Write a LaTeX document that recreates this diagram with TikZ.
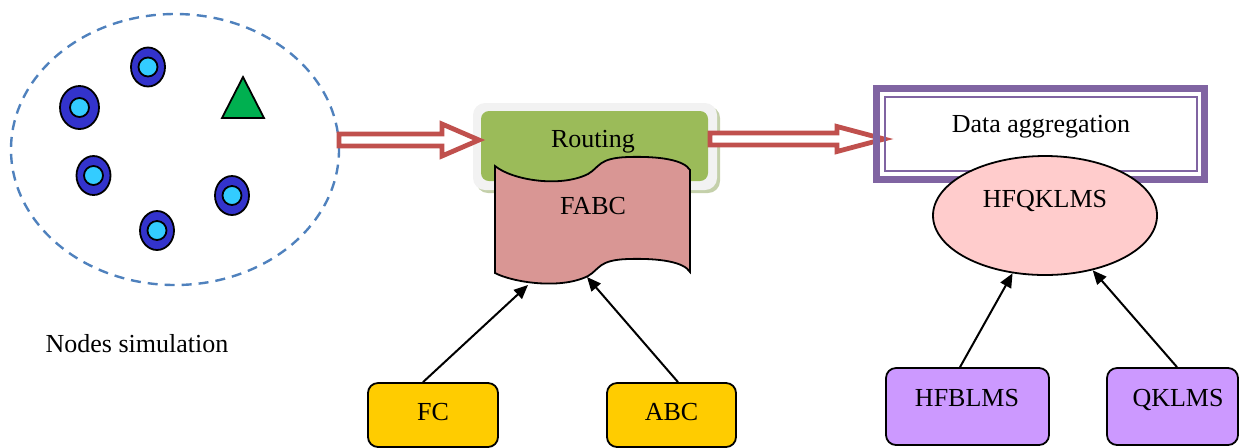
\documentclass[tikz,border=0pt]{standalone}
\usepackage{fontspec}
\setmainfont{Liberation Serif}
\usetikzlibrary{arrows.meta,shapes.geometric,calc}
\definecolor{arrred}{RGB}{192,80,77}
\definecolor{aggpurple}{RGB}{128,100,162}
\definecolor{routgreen}{RGB}{155,187,89}
\definecolor{framegray}{RGB}{242,242,242}
\definecolor{shadowgray}{RGB}{196,208,170}
\definecolor{wavepink}{RGB}{217,150,148}
\definecolor{ellpink}{RGB}{255,204,204}
\definecolor{fcyellow}{RGB}{255,204,0}
\definecolor{lmsviolet}{RGB}{204,153,255}
\definecolor{dashblue}{RGB}{79,129,189}
\definecolor{trigreen}{RGB}{0,176,80}
\definecolor{nodeblue}{RGB}{51,51,204}
\definecolor{nodecyan}{RGB}{51,204,255}
\newcommand\hollowarrow[6]{%
  \draw[hollowarr] (#1,#4-#5) -- (#2,#4-#5) -- (#2,#4-#6) -- (#3,#4)
    -- (#2,#4+#6) -- (#2,#4+#5) -- (#1,#4+#5) -- cycle;}
\newcommand\simnode[4]{%
  \fill[nodeblue,draw=black,line width=0.9pt] (#1,#2) ellipse [x radius=#3, y radius=#4];
  \fill[nodecyan,draw=black,line width=0.9pt] (#1,#2) circle [radius=9.5];}
\begin{document}
\begin{tikzpicture}[x=0.5pt,y=-0.5pt,
  every node/.style={font=\fontsize{13}{15}\selectfont},
  hollowarr/.style={draw=arrred,fill=white,line width=2.4pt},
  boxstyle/.style={draw=black,line width=0.9pt,rounded corners=5pt,inner sep=0pt},
  conn/.style={line width=1pt,-{Triangle[length=7pt,width=6pt]}},
  txt/.style={inner sep=0pt,anchor=base}]
\useasboundingbox (0,0) rectangle (1240,447);
% nodes simulation cloud
\node[draw=dashblue,line width=1.2pt,dash pattern=on 5pt off 3.5pt,ellipse,
  minimum width=328*0.5pt,minimum height=271*0.5pt,inner sep=0pt] (cloud) at (175,149.5) {};
\simnode{148}{67}{17}{19.5}
\simnode{79.5}{107.5}{19.5}{21.5}
\simnode{93.5}{175.5}{17}{19.5}
\simnode{232}{195.5}{17}{19.5}
\simnode{157}{230.5}{17}{19.5}
\draw[fill=trigreen,draw=black,line width=0.9pt] (243,77) -- (264,118) -- (222,118) -- cycle;
\node[txt] (simlabel) at (137,352) {Nodes simulation};
% routing box
\fill[shadowgray,rounded corners=6pt] (476,106) rectangle (720,193);
\fill[framegray,rounded corners=6pt] (473,103) rectangle (717,190);
\fill[routgreen,rounded corners=4pt] (481,111) rectangle (708,181);
\node[txt] (routing) at (593,147) {Routing};
% FABC wave
\draw[fill=wavepink,line width=0.9pt]
  (495,166) .. controls (512,180) and (560,188) .. (588,174)
  .. controls (600,167) and (598,158) .. (628,157)
  .. controls (660,156) and (684,160) .. (690,170)
  -- (690,272)
  .. controls (684,262) and (660,258) .. (628,259)
  .. controls (598,260) and (600,269) .. (588,276)
  .. controls (560,290) and (512,282) .. (495,273) -- cycle;
\node[txt] (fabc) at (593,214) {FABC};
\coordinate (fabcL) at (528,285);
\coordinate (fabcR) at (587,277);
% hollow arrows
\hollowarrow{339}{442}{479}{140}{6}{16}
\hollowarrow{710}{837}{884}{139}{6}{12.5}
% data aggregation box
\draw[aggpurple,line width=3.5pt] (876.5,88.5) rectangle (1204.5,179.5);
\draw[aggpurple,line width=0.8pt] (885,97) rectangle (1197,171);
\node[txt] (agg) at (1041,132) {Data aggregation};
% HFQKLMS
\node[draw=black,line width=0.9pt,fill=ellpink,ellipse,inner sep=0pt,
  minimum width=224*0.5pt,minimum height=119*0.5pt] (hfq) at (1045,215.5) {};
\node[txt] (hfqtext) at (1045,207) {HFQKLMS};
% bottom boxes
\node[boxstyle,fill=fcyellow,minimum width=130*0.5pt,minimum height=64*0.5pt] (fc) at (433,415) {};
\node[txt] (fctext) at (433,420) {FC};
\node[boxstyle,fill=fcyellow,minimum width=129*0.5pt,minimum height=64*0.5pt] (abc) at (671.5,415) {};
\node[txt] (abctext) at (671.5,420) {ABC};
\node[boxstyle,fill=lmsviolet,minimum width=163*0.5pt,minimum height=77*0.5pt] (hfb) at (967.5,406.5) {};
\node[txt] (hfbtext) at (967,406) {HFBLMS};
\node[boxstyle,fill=lmsviolet,minimum width=131*0.5pt,minimum height=77*0.5pt] (qk) at (1172.5,406.5) {};
\node[txt] (qktext) at (1178,406) {QKLMS};
% connectors
\draw[conn] ($(fc.north)+(-10,0)$) -- (fabcL);
\draw[conn] ($(abc.north)+(6.5,0)$) -- (fabcR);
\draw[conn] ($(hfb.north)+(-7.5,0)$) -- (hfq);
\draw[conn] ($(qk.north)+(4.5,0)$) -- (hfq);
\end{tikzpicture}
\end{document}
